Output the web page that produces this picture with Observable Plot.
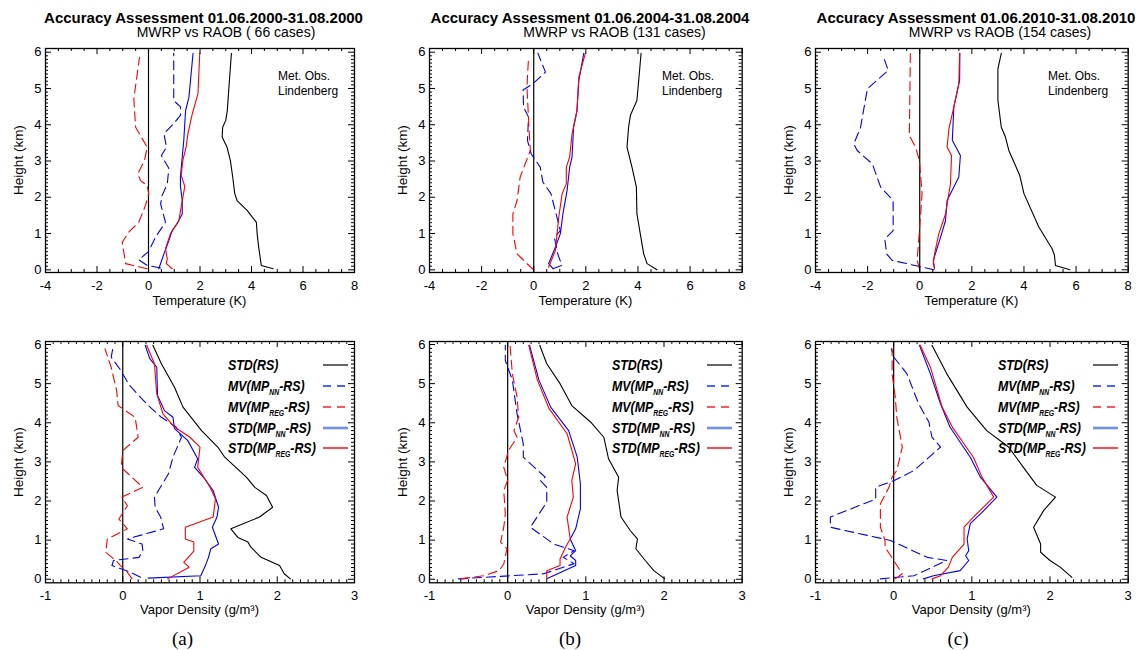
<!DOCTYPE html>
<html><head><meta charset="utf-8">
<script src="https://cdn.jsdelivr.net/npm/d3@7"></script>
<script src="https://cdn.jsdelivr.net/npm/@observablehq/plot@0.6"></script>
<style>
html,body{margin:0;padding:0;background:#fff;overflow:hidden;}
#root{position:relative;width:1142px;height:650px;font-family:"Liberation Sans",Arial,Helvetica,sans-serif;color:#000;}
.abs{position:absolute;white-space:nowrap;line-height:1;}
.title{font-size:15px;font-weight:bold;text-align:center;width:400px;}
.sub{font-size:14px;text-align:center;width:300px;}
.xlab{font-size:13px;text-align:center;width:300px;line-height:10px;height:10px;}
.ylab{font-size:13.5px;text-align:center;width:140px;height:14px;transform:rotate(-90deg);}
.cap{font-family:"Liberation Serif","Times New Roman",serif;font-size:19px;text-align:center;width:60px;}
.met{font-size:12px;}
.leg{font-size:15.5px;font-weight:bold;font-style:italic;transform:scaleX(0.8);transform-origin:0 50%;}
.leg sub{font-size:8.5px;vertical-align:-4px;line-height:0;}
</style></head><body><div id="root"></div>
<script>
// ---------------- DATA ----------------
const periods = ["01.06.2000-31.08.2000", "01.06.2004-31.08.2004", "01.06.2010-31.08.2010"];
const caseCounts = [" 66", "131", "154"];
const captions = ["(a)", "(b)", "(c)"];
const stationLines = ["Met. Obs.", "Lindenberg"];
const tempTicksX = [-4, -2, 0, 2, 4, 6, 8];
const vapTicksX = [-1, 0, 1, 2, 3];
const heightTicks = [0, 1, 2, 3, 4, 5, 6];
const tempLabel = "Temperature (K)";
const vapLabel = "Vapor Density (g/m³)";
const heightLabel = "Height (km)";
const seriesNames = ["STD(RS)", "MV(MP_NN-RS)", "MV(MP_REG-RS)", "STD(MP_NN-RS)", "STD(MP_REG-RS)"];

// [value, height km] pairs, bottom -> top
// Temperature (K), panel a
const T_a_stdRS = [[4.84,0.03],[4.38,0.12],[4.28,0.62],[4.22,0.99],[4.19,1.31],[3.83,1.64],[3.44,1.91],[3.35,2.10],[3.27,2.56],[3.18,3.01],[3.05,3.38],[2.86,3.66],[2.88,3.93],[3.0,4.12],[3.06,4.39],[3.12,5.0],[3.22,5.97]];
const T_a_mvNN = [[0.47,0.05],[-0.05,0.12],[-0.38,0.28],[0.0,0.5],[0.27,0.9],[0.66,1.31],[0.47,1.82],[0.53,2.05],[0.73,2.37],[0.79,2.8],[0.5,3.15],[0.7,3.38],[0.6,3.75],[0.98,4.03],[1.24,4.26],[1.24,4.49],[0.98,4.67],[0.98,5.97]];
const T_a_mvREG = [[-0.05,0.03],[-0.89,0.17],[-0.96,0.49],[-1.02,0.76],[-0.77,1.04],[-0.38,1.31],[-0.12,1.77],[0.01,2.09],[-0.05,2.32],[-0.31,2.46],[-0.41,2.65],[-0.16,3.01],[-0.05,3.38],[-0.5,3.93],[-0.57,4.71],[-0.35,5.86]];
const T_a_stdNN = [[0.4,0.03],[0.6,0.44],[0.79,0.81],[0.92,1.08],[1.11,1.27],[1.31,1.54],[1.31,1.91],[1.24,2.3],[1.24,2.56],[1.31,3.11],[1.37,3.57],[1.44,4.39],[1.57,4.76],[1.73,5.97]];
const T_a_stdREG = [[0.92,0.03],[0.69,0.17],[0.73,0.30],[0.66,0.58],[0.85,0.99],[1.18,1.36],[1.31,1.91],[1.41,2.3],[1.27,2.6],[1.33,3.01],[1.46,3.38],[1.53,3.75],[1.7,4.3],[1.92,4.85],[1.99,5.97]];
// Temperature (K), panel b
const T_b_stdRS = [[4.73,0.0],[4.35,0.17],[4.22,0.44],[4.09,0.99],[3.96,1.54],[3.94,2.28],[3.77,2.83],[3.58,3.38],[3.64,3.93],[3.71,4.26],[3.96,4.67],[4.12,5.97]];
const T_b_mvNN = [[0.74,0.03],[1.08,0.12],[0.92,0.44],[0.79,0.9],[1.02,1.08],[0.89,1.45],[0.66,2.1],[0.35,2.42],[0.25,2.83],[-0.1,3.2],[-0.24,3.57],[-0.2,4.21],[-0.39,4.49],[-0.41,4.96],[-0.03,5.13],[0.45,5.45],[0.16,5.97]];
const T_b_mvREG = [[0.0,0.0],[-0.26,0.17],[-0.64,0.44],[-0.8,0.99],[-0.8,1.54],[-0.64,1.91],[-0.52,2.56],[-0.13,3.29],[-0.17,3.75],[-0.26,5.04],[-0.2,5.85]];
const T_b_stdNN = [[0.74,0.03],[0.57,0.17],[0.83,0.62],[1.02,0.99],[1.12,1.54],[1.28,2.19],[1.38,2.83],[1.47,3.11],[1.53,3.93],[1.66,4.39],[1.73,5.22],[1.92,5.97]];
const T_b_stdREG = [[0.57,0.07],[0.83,0.53],[0.96,1.45],[1.09,2.1],[1.25,2.37],[1.25,2.83],[1.38,3.11],[1.47,3.75],[1.66,4.39],[1.73,5.31],[1.98,5.97]];
// Temperature (K), panel c
const T_c_stdRS = [[5.76,0.0],[5.21,0.12],[5.17,0.4],[5.08,0.58],[4.57,1.18],[4.0,2.1],[3.84,2.6],[3.42,3.29],[3.29,3.66],[3.13,3.93],[3.0,4.67],[3.0,5.54],[3.13,5.97]];
const T_c_mvNN = [[0.54,0.0],[0.0,0.09],[-1.06,0.26],[-1.27,0.44],[-1.34,0.85],[-1.02,1.08],[-1.02,1.91],[-1.5,2.28],[-1.82,2.92],[-2.4,3.29],[-2.53,3.47],[-2.27,3.93],[-2.01,4.99],[-1.21,5.5],[-1.41,5.91]];
const T_c_mvREG = [[0.0,0.0],[-0.1,0.26],[0.0,1.18],[0.09,2.1],[-0.01,3.01],[-0.16,3.38],[-0.4,3.7],[-0.38,4.76],[-0.36,5.96]];
const T_c_stdNN = [[0.57,0.03],[0.52,0.26],[0.8,0.9],[0.99,1.36],[1.05,1.91],[1.5,2.56],[1.56,3.15],[1.25,3.57],[1.31,4.49],[1.53,5.22],[1.54,5.97]];
const T_c_stdREG = [[0.57,0.03],[0.52,0.17],[0.57,0.44],[0.73,0.99],[0.99,1.54],[1.18,2.37],[1.22,3.15],[1.05,3.38],[1.12,3.89],[1.31,4.49],[1.5,5.13],[1.53,5.97]];
// Vapor density (g/m3), panel a
const V_a_stdRS = [[2.17,0.01],[2.09,0.14],[2.03,0.35],[1.79,0.56],[1.66,0.82],[1.62,0.95],[1.49,1.07],[1.4,1.29],[1.77,1.59],[1.94,1.84],[1.86,2.14],[1.71,2.35],[1.6,2.61],[1.32,3.12],[1.23,3.38],[1.02,3.8],[0.78,4.4],[0.67,4.91],[0.5,5.51],[0.39,5.98]];
const V_a_mvNN = [[0.23,0.05],[0.1,0.18],[-0.14,0.35],[-0.12,0.48],[0.21,0.56],[0.26,0.73],[0.25,0.9],[0.06,1.03],[0.53,1.29],[0.49,1.59],[0.42,1.84],[0.41,2.1],[0.59,2.69],[0.65,3.12],[0.76,3.63],[0.69,3.89],[0.5,4.14],[0.33,4.44],[0.09,4.95],[-0.04,5.38],[-0.15,5.68],[-0.12,5.98]];
const V_a_mvREG = [[0.12,0.01],[0.06,0.18],[-0.03,0.35],[-0.09,0.48],[-0.22,0.69],[-0.2,1.03],[0.06,1.29],[-0.05,1.54],[0.06,1.88],[-0.01,2.1],[0.26,2.35],[-0.02,2.86],[0.0,3.29],[0.2,3.63],[0.16,4.14],[-0.06,4.44],[-0.08,4.83],[-0.15,5.42],[-0.23,5.89]];
const V_a_stdNN = [[0.33,0.03],[1.01,0.09],[1.07,0.35],[1.11,0.56],[1.14,0.78],[1.24,0.9],[1.16,1.33],[1.22,1.59],[1.24,1.84],[1.17,2.27],[1.06,2.57],[0.93,2.86],[0.97,3.08],[0.84,3.55],[0.67,3.85],[0.65,4.14],[0.54,4.31],[0.45,4.7],[0.44,5.42],[0.35,5.64],[0.29,5.98]];
const V_a_stdREG = [[0.58,0.01],[0.86,0.31],[0.79,0.43],[0.92,0.72],[0.92,0.95],[0.81,1.03],[0.81,1.33],[1.17,1.59],[1.2,2.06],[1.13,2.35],[0.97,2.86],[1.0,3.38],[0.87,3.63],[0.67,3.89],[0.52,4.23],[0.44,4.74],[0.41,5.51],[0.31,5.98]];
// Vapor density (g/m3), panel b
const V_b_stdRS = [[2.01,0.01],[1.87,0.22],[1.76,0.48],[1.64,0.78],[1.66,1.03],[1.57,1.24],[1.45,1.59],[1.4,2.27],[1.42,2.61],[1.29,3.08],[1.23,3.63],[1.06,4.02],[0.82,4.44],[0.67,5.0],[0.5,5.51],[0.41,5.98]];
const V_b_mvNN = [[-0.63,0.01],[0.46,0.14],[0.85,0.4],[0.71,0.56],[0.85,0.73],[0.59,0.9],[0.29,1.33],[0.5,1.97],[0.5,2.35],[0.42,2.52],[0.48,2.61],[0.2,3.12],[0.2,3.46],[0.12,4.23],[0.06,5.09],[-0.03,5.59],[-0.03,5.98]];
const V_b_mvREG = [[-0.6,0.01],[-0.31,0.09],[-0.11,0.22],[-0.05,0.39],[-0.01,0.78],[-0.09,0.95],[-0.05,1.33],[-0.03,1.67],[-0.05,2.27],[0.0,2.53],[-0.05,2.86],[0.01,3.29],[0.12,3.63],[0.08,3.8],[0.14,4.14],[0.12,4.66],[0.06,5.25],[0.03,5.98]];
const V_b_stdNN = [[0.5,0.01],[0.87,0.35],[0.87,0.48],[0.8,0.6],[0.87,0.73],[0.8,1.03],[0.87,1.29],[0.93,1.8],[0.93,2.44],[0.89,3.12],[0.78,3.8],[0.55,4.4],[0.4,5.09],[0.28,5.98]];
const V_b_stdREG = [[0.5,0.01],[0.5,0.22],[0.67,0.35],[0.67,0.52],[0.74,0.82],[0.8,1.03],[0.76,1.59],[0.84,2.1],[0.82,2.53],[0.87,2.95],[0.76,3.72],[0.53,4.36],[0.38,5.09],[0.27,5.98]];
// Vapor density (g/m3), panel c
const V_c_stdRS = [[2.28,0.05],[2.13,0.31],[2.0,0.48],[1.88,0.69],[1.88,0.9],[1.79,1.33],[1.92,1.76],[2.07,2.1],[1.83,2.4],[1.66,2.86],[1.47,3.38],[1.19,3.8],[0.94,4.4],[0.68,5.25],[0.49,5.98]];
const V_c_mvNN = [[-0.17,0.01],[0.26,0.09],[0.68,0.48],[0.43,0.56],[-0.04,0.99],[-0.81,1.33],[-0.81,1.59],[-0.23,2.05],[-0.23,2.35],[0.0,2.52],[0.26,2.78],[0.6,3.38],[0.49,3.63],[0.45,4.02],[0.32,4.48],[0.17,5.25],[0.0,5.68],[-0.03,5.89]];
const V_c_mvREG = [[0.02,0.01],[0.11,0.14],[0.0,0.48],[-0.11,0.82],[-0.11,0.99],[-0.17,1.33],[-0.17,1.93],[-0.06,2.35],[-0.02,2.61],[0.04,2.78],[0.11,3.38],[0.04,4.14],[0.02,4.66],[-0.02,5.25],[-0.02,5.89]];
const V_c_stdNN = [[0.38,0.01],[0.51,0.09],[0.85,0.22],[0.96,0.48],[0.92,0.6],[0.96,0.73],[0.94,1.03],[0.98,1.42],[1.13,1.71],[1.32,2.1],[1.11,2.61],[0.98,3.12],[0.72,3.89],[0.6,4.48],[0.47,5.25],[0.33,5.98]];
const V_c_stdREG = [[0.49,0.01],[0.6,0.09],[0.7,0.31],[0.75,0.56],[0.9,0.9],[0.9,1.33],[1.02,1.59],[1.28,2.1],[1.13,2.61],[1.02,3.12],[0.75,3.89],[0.62,4.4],[0.47,5.42],[0.34,5.98]];

// ---------------- LAYOUT / STYLE ----------------
const styles = [
  {stroke: "#000000"},
  {stroke: "#0000ff", dash: "9,5"},
  {stroke: "#ff0000", dash: "9,5"},
  {stroke: "#0000ff"},
  {stroke: "#ff0000"}
];
const cols = [{left: 45, w: 309}, {left: 429, w: 312.7}, {left: 815, w: 312.7}];
const rows = [
  {top: 48, h: 224, yDomain: [-0.074, 6.102], xDomain: [-4, 8], xTicks: tempTicksX, minorStep: 0.5, labelPad: 8, labTop: 295.5},
  {top: 341, h: 241.3, yDomain: [-0.09, 6.077], xDomain: [-1, 3], xTicks: vapTicksX, minorStep: 0.1, labelPad: 7.5, labTop: 605}
];
const titleCenters = [203.5, 590, 976];
const subCenters = [226, 614.5, 1000];
const capCenters = [182.5, 570, 958];

const tempSeries = [
  [T_a_stdRS, T_a_mvNN, T_a_mvREG, T_a_stdNN, T_a_stdREG],
  [T_b_stdRS, T_b_mvNN, T_b_mvREG, T_b_stdNN, T_b_stdREG],
  [T_c_stdRS, T_c_mvNN, T_c_mvREG, T_c_stdNN, T_c_stdREG]
];
const vapSeries = [
  [V_a_stdRS, V_a_mvNN, V_a_mvREG, V_a_stdNN, V_a_stdREG],
  [V_b_stdRS, V_b_mvNN, V_b_mvREG, V_b_stdNN, V_b_stdREG],
  [V_c_stdRS, V_c_mvNN, V_c_mvREG, V_c_stdNN, V_c_stdREG]
];

const root = document.getElementById("root");
function addDiv(cls, html, left, top, extra) {
  const d = document.createElement("div");
  d.className = "abs " + cls;
  d.innerHTML = html;
  d.style.left = left + "px";
  d.style.top = top + "px";
  if (extra) Object.assign(d.style, extra);
  root.appendChild(d);
  return d;
}

function minorTicks(domainLo, domainHi, step, majorStep) {
  const out = [];
  const n0 = Math.ceil(domainLo / step - 1e-9), n1 = Math.floor(domainHi / step + 1e-9);
  for (let i = n0; i <= n1; i++) {
    const v = +(i * step).toFixed(4);
    const r = v / majorStep;
    if (Math.abs(r - Math.round(r)) > 1e-6) out.push(v);
  }
  return out;
}

function buildPanel(col, row, series) {
  const mL = 45, mR = 10, mT = 10, mB = 30;
  const {xDomain, yDomain} = row;
  const w = col.w, h = row.h;
  const ux = (xDomain[1] - xDomain[0]) / w, uy = (yDomain[1] - yDomain[0]) / h;
  const xMajorStep = row.xTicks[1] - row.xTicks[0];
  const xMinor = minorTicks(xDomain[0], xDomain[1], row.minorStep, xMajorStep);
  const yMinor = minorTicks(0, 6, 0.1, 1);
  const MAJ = 6, MIN = 3;
  const xt = (ticks, len) => [
    Plot.ruleX(ticks, {x: d => d, y1: yDomain[0], y2: yDomain[0] + len * uy, stroke: "#000", strokeWidth: 1}),
    Plot.ruleX(ticks, {x: d => d, y1: yDomain[1] - len * uy, y2: yDomain[1], stroke: "#000", strokeWidth: 1})
  ];
  const yt = (ticks, len) => [
    Plot.ruleY(ticks, {y: d => d, x1: xDomain[0], x2: xDomain[0] + len * ux, stroke: "#000", strokeWidth: 1}),
    Plot.ruleY(ticks, {y: d => d, x1: xDomain[1] - len * ux, x2: xDomain[1], stroke: "#000", strokeWidth: 1})
  ];
  const lines = series.map((s, i) => {
    const o = {x: d => d[0], y: d => d[1], stroke: styles[i].stroke, strokeWidth: 1.1};
    if (styles[i].dash) o.strokeDasharray = styles[i].dash;
    return Plot.line(s, o);
  });
  const svg = Plot.plot({
    width: w + mL + mR, height: h + mT + mB,
    marginLeft: mL, marginRight: mR, marginTop: mT, marginBottom: mB,
    x: {domain: xDomain}, y: {domain: yDomain},
    style: {fontFamily: "'Liberation Sans', Arial, sans-serif", fontSize: "13px", background: "transparent", overflow: "visible", maxWidth: "none", color: "#000"},
    marks: [
      Plot.ruleX([0], {stroke: "#000", strokeWidth: 1.2}),
      ...lines,
      ...xt(row.xTicks, MAJ), ...xt(xMinor, MIN),
      ...yt(heightTicks, MAJ), ...yt(yMinor, MIN),
      Plot.axisX({ticks: row.xTicks, tickSize: 0, tickPadding: row.labelPad, tickFormat: d => String(d), label: null, fontSize: 13}),
      Plot.axisY({ticks: heightTicks, tickSize: 0, tickPadding: 4, tickFormat: d => String(d), label: null, fontSize: 13}),
      Plot.frame({stroke: "#000", strokeWidth: 1.3})
    ]
  });
  const wrap = document.createElement("div");
  wrap.className = "abs";
  wrap.style.left = (col.left - mL) + "px";
  wrap.style.top = (row.top - mT) + "px";
  wrap.style.width = (w + mL + mR) + "px";
  wrap.appendChild(svg);
  root.appendChild(wrap);
}

cols.forEach((col, i) => {
  buildPanel(col, rows[0], tempSeries[i]);
  buildPanel(col, rows[1], vapSeries[i]);
});

// texts
cols.forEach((col, i) => {
  addDiv("title", "Accuracy Assessment " + periods[i], titleCenters[i] - 200, 9.5);
  addDiv("sub", "MWRP vs RAOB (" + caseCounts[i].replace(/ /g, "&nbsp;") + " cases)", subCenters[i] - 150, 25);
  addDiv("met", stationLines[0], col.left + 233, 70);
  addDiv("met", stationLines[1], col.left + 233, 85);
  addDiv("xlab", tempLabel, col.left + col.w / 2 - 150, rows[0].labTop);
  addDiv("xlab", vapLabel, col.left + col.w / 2 - 150, rows[1].labTop);
  const yc = col.left - 26;
  addDiv("ylab", heightLabel, yc - 70, rows[0].top + rows[0].h / 2 - 7);
  addDiv("ylab", heightLabel, yc - 70, rows[1].top + rows[1].h / 2 - 7);
  addDiv("cap", captions[i], capCenters[i] - 30, 628.5);
  // legend
  const rowOff = [24, 45, 66, 87, 107];
  seriesNames.forEach((name, k) => {
    const html = name.replace(/_(NN|REG)/, "<sub>$1</sub>");
    const cy = rows[1].top + rowOff[k];
    addDiv("leg", html, col.left + 183, cy - 7.75);
    const ns = "http://www.w3.org/2000/svg";
    const sv = document.createElementNS(ns, "svg");
    sv.setAttribute("width", "27"); sv.setAttribute("height", "6");
    sv.style.position = "absolute";
    sv.style.left = (col.left + 277) + "px";
    sv.style.top = (cy - 3) + "px";
    const ln = document.createElementNS(ns, "line");
    ln.setAttribute("x1", "1"); ln.setAttribute("x2", "26");
    ln.setAttribute("y1", "3"); ln.setAttribute("y2", "3");
    const legStroke = ["#666666", "#1030ff", "#ff2020", "#7090ee", "#ff1010"][k];
    const legWidth = [2, 1.4, 1.4, 2.6, 1.5][k];
    ln.setAttribute("stroke", legStroke);
    ln.setAttribute("stroke-width", legWidth);
    if (styles[k].dash) ln.setAttribute("stroke-dasharray", "8,6");
    sv.appendChild(ln);
    root.appendChild(sv);
  });
});
</script></body></html>
